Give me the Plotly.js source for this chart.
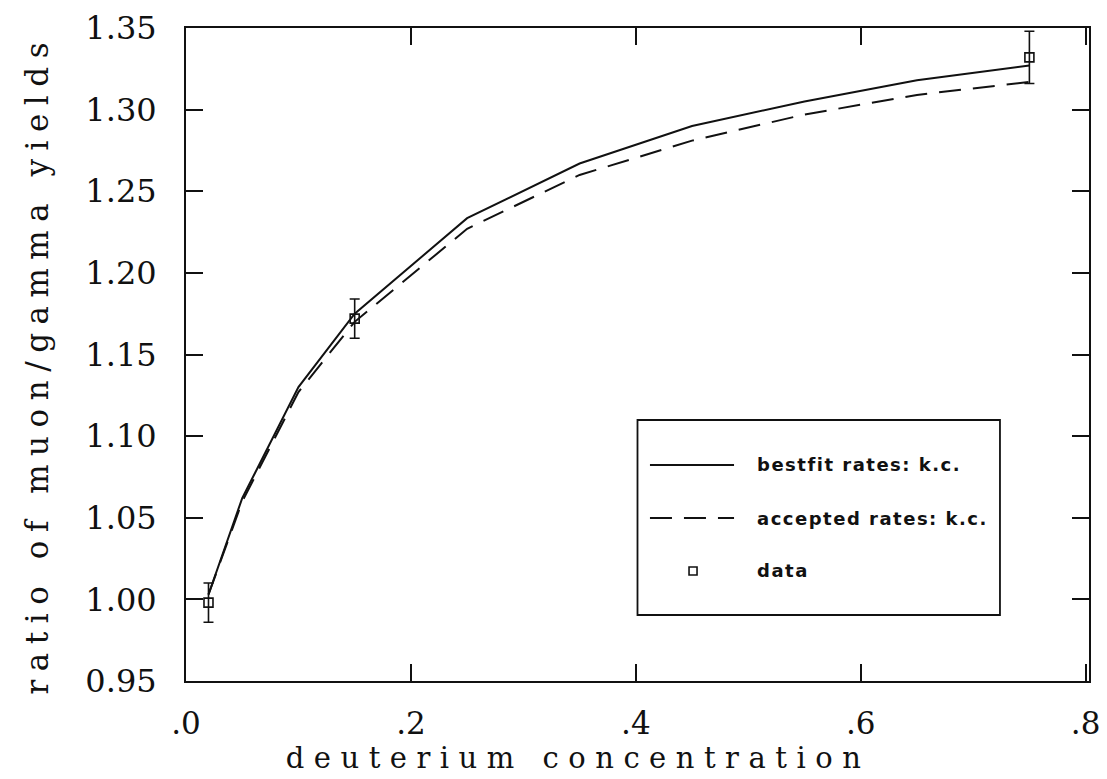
<!DOCTYPE html>
<html>
<head>
<meta charset="utf-8">
<script src="https://cdn.plot.ly/plotly-3.0.1.min.js"></script>
<style>
  html, body { margin: 0; padding: 0; background: #fff; }
  #chart { width: 1107px; height: 779px; }
  g.annotation text { letter-spacing: 1.5px; }
  g.annotation[data-index="3"] text { letter-spacing: 9.5px; }
  g.annotation[data-index="4"] text { letter-spacing: 8.5px; }
</style>
</head>
<body>
<div id="chart"></div>
<script>
// ---- data ----
const modelX = [0.02, 0.05, 0.10, 0.15, 0.25, 0.35, 0.45, 0.55, 0.65, 0.75];
const bestfitY = [1.003, 1.062, 1.130, 1.175, 1.2335, 1.267, 1.290, 1.305, 1.318, 1.327];
const acceptedY = [1.003, 1.060, 1.127, 1.170, 1.227, 1.260, 1.281, 1.297, 1.309, 1.317];
const dataX = [0.02, 0.15, 0.75];
const dataY = [0.998, 1.172, 1.332];
const dataErr = [0.012, 0.012, 0.016];
const xTickVals = [0.0, 0.2, 0.4, 0.6, 0.8];
const xTickText = ['.0', '.2', '.4', '.6', '.8'];
const yTickVals = [0.95, 1.00, 1.05, 1.10, 1.15, 1.20, 1.25, 1.30, 1.35];
const yTickText = ['0.95', '1.00', '1.05', '1.10', '1.15', '1.20', '1.25', '1.30', '1.35'];
const legendLabels = ['bestfit rates: k.c.', 'accepted rates: k.c.', 'data'];
const xTitle = 'deuterium concentration';
const yTitle = 'ratio of muon/gamma yields';

const serif = 'DejaVu Serif, Liberation Serif, serif';
const sans = 'DejaVu Sans, Liberation Sans, sans-serif';

const traces = [
  {
    x: modelX, y: bestfitY, type: 'scatter', mode: 'lines',
    line: {color: '#111', width: 2}, name: legendLabels[0], hoverinfo: 'skip'
  },
  {
    x: modelX, y: acceptedY, type: 'scatter', mode: 'lines',
    line: {color: '#111', width: 2, dash: '22px,12px'}, name: legendLabels[1], hoverinfo: 'skip'
  },
  {
    x: dataX, y: dataY, type: 'scatter', mode: 'markers',
    marker: {symbol: 'square-open', size: 9, color: '#111', line: {width: 1.6, color: '#111'}},
    error_y: {type: 'data', array: dataErr, visible: true, color: '#111', thickness: 1.6, width: 5},
    name: legendLabels[2]
  }
];

// legend box geometry (paper coordinates)
const lg = {x0: 0.500, x1: 0.9014, y0: 0.1011, y1: 0.3997,
            rows: [0.3308, 0.2496, 0.1685], lineX0: 0.5138, lineX1: 0.6069,
            markX: 0.5615, textX: 0.6300};

const shapes = [
  {type: 'rect', xref: 'paper', yref: 'paper', x0: lg.x0, x1: lg.x1, y0: lg.y0, y1: lg.y1,
   line: {color: '#111', width: 1.8}, fillcolor: 'rgba(0,0,0,0)'},
  {type: 'line', xref: 'paper', yref: 'paper', x0: lg.lineX0, x1: lg.lineX1, y0: lg.rows[0], y1: lg.rows[0],
   line: {color: '#111', width: 2}},
  {type: 'line', xref: 'paper', yref: 'paper', x0: lg.lineX0, x1: lg.lineX1, y0: lg.rows[1], y1: lg.rows[1],
   line: {color: '#111', width: 2, dash: '22px,12px'}},
  {type: 'rect', xref: 'paper', yref: 'paper', xsizemode: 'pixel', ysizemode: 'pixel',
   xanchor: lg.markX, yanchor: lg.rows[2], x0: -4, x1: 4, y0: -4, y1: 4,
   line: {color: '#111', width: 1.6}, fillcolor: 'rgba(0,0,0,0)'}
];

const annotations = legendLabels.map((t, i) => ({
  xref: 'paper', yref: 'paper', x: lg.textX, y: lg.rows[i], text: t,
  showarrow: false, xanchor: 'left', yanchor: 'middle', align: 'left',
  font: {family: sans, size: 18, color: '#111', weight: 'bold'}
}));
// axis titles (index 3 and 4)
annotations.push({
  xref: 'paper', yref: 'paper', x: 0.434, y: -0.147, text: xTitle,
  showarrow: false, xanchor: 'center', yanchor: 'bottom',
  font: {family: serif, size: 29, color: '#111'}
});
annotations.push({
  xref: 'paper', yref: 'paper', x: -0.165, y: 0.4855, text: yTitle, textangle: -90,
  showarrow: false, xanchor: 'center', yanchor: 'middle',
  font: {family: serif, size: 31, color: '#111'}
});

const layout = {
  width: 1107, height: 779,
  margin: {l: 186, r: 18, t: 28, b: 98, pad: 0},
  paper_bgcolor: '#fff', plot_bgcolor: '#fff',
  showlegend: false,
  xaxis: {
    range: [0, 0.803], tickvals: xTickVals, ticktext: xTickText,
    ticks: 'inside', ticklen: 17, tickwidth: 2, tickcolor: '#111',
    showline: true, linecolor: '#111', linewidth: 2, mirror: 'ticks',
    showgrid: false, zeroline: false,
    tickfont: {family: serif, size: 31, color: '#111'},
    ticklabelstandoff: 14
  },
  yaxis: {
    range: [0.95, 1.35], tickvals: yTickVals, ticktext: yTickText,
    ticks: 'inside', ticklen: 17, tickwidth: 2, tickcolor: '#111',
    showline: true, linecolor: '#111', linewidth: 2, mirror: 'ticks',
    showgrid: false, zeroline: false,
    tickfont: {family: serif, size: 32, color: '#111'},
    ticklabelstandoff: 21
  },
  shapes: shapes,
  annotations: annotations
};

Plotly.newPlot('chart', traces, layout, {displayModeBar: false, staticPlot: true});
</script>
</body>
</html>
